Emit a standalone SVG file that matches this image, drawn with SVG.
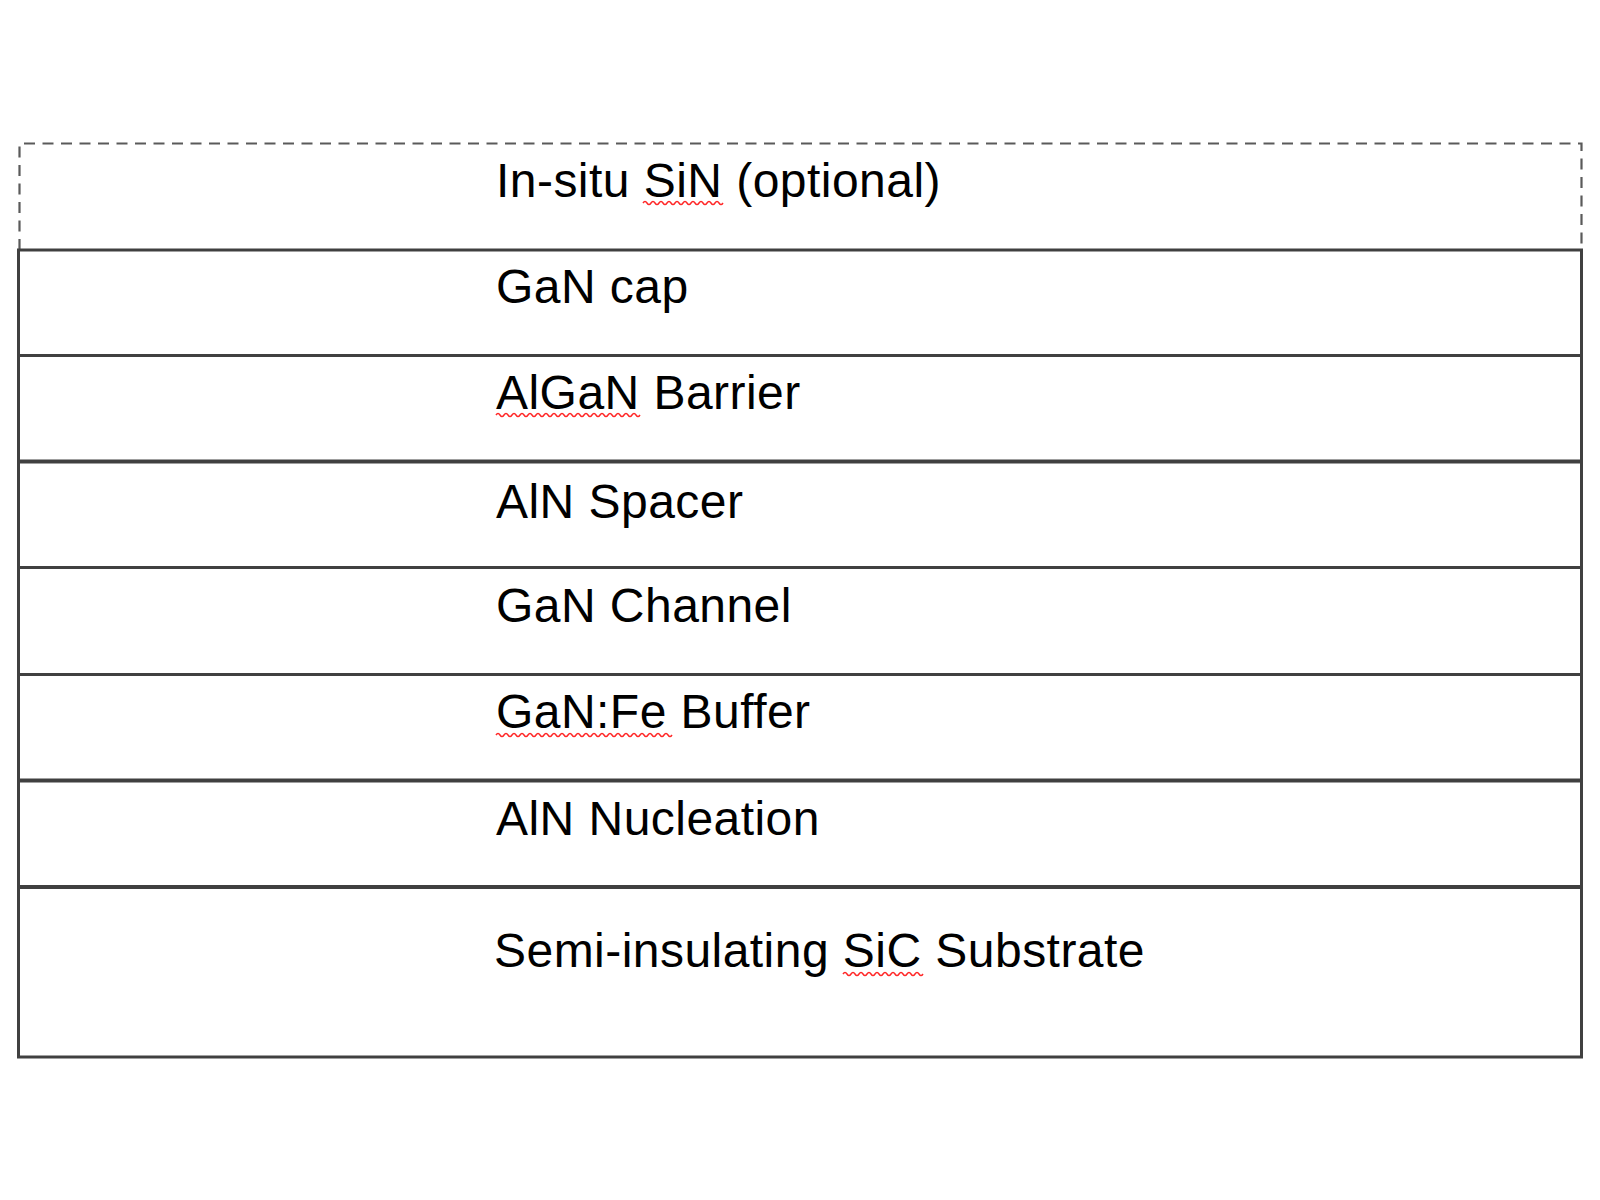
<svg xmlns="http://www.w3.org/2000/svg" width="1600" height="1200" viewBox="0 0 1600 1200">
<style>
.lbl{font-family:"Liberation Sans",Arial,sans-serif;font-size:48px;fill:#000;letter-spacing:0.46px}
.ln{stroke:#404040;stroke-width:3;fill:none}
.thk{stroke-width:4}
.dash{stroke:#5a5a5a;stroke-width:2.2;fill:none;stroke-dasharray:11 7.5}
.sq{stroke:#ff2828;stroke-width:1.5;fill:none}
</style>
<rect width="1600" height="1200" fill="#fff"/>
<g id="insitu-sin">
<path class="dash" d="M19.5,250 V143.5 H1581.5 V250"/>
<text class="lbl" x="496" y="197">In-situ SiN (optional)</text>
<path class="sq" d="M643,203 q2,-3 4,0 t4,0 t4,0 t4,0 t4,0 t4,0 t4,0 t4,0 t4,0 t4,0 t4,0 t4,0 t4,0 t4,0 t4,0 t4,0 t4,0 t4,0 t4,0 t4,0"/>
</g>
<g id="gan-cap">
<text class="lbl" x="496" y="303">GaN cap</text>
</g>
<g id="algan-barrier">
<text class="lbl" x="496" y="409">AlGaN Barrier</text>
<path class="sq" d="M496,415 q2,-3 4,0 t4,0 t4,0 t4,0 t4,0 t4,0 t4,0 t4,0 t4,0 t4,0 t4,0 t4,0 t4,0 t4,0 t4,0 t4,0 t4,0 t4,0 t4,0 t4,0 t4,0 t4,0 t4,0 t4,0 t4,0 t4,0 t4,0 t4,0 t4,0 t4,0 t4,0 t4,0 t4,0 t4,0 t4,0 t4,0"/>
</g>
<g id="aln-spacer">
<text class="lbl" x="496" y="518">AlN Spacer</text>
</g>
<g id="gan-channel">
<text class="lbl" x="496" y="622">GaN Channel</text>
</g>
<g id="ganfe-buffer">
<text class="lbl" x="496" y="728">GaN:Fe Buffer</text>
<path class="sq" d="M496,735 q2,-3 4,0 t4,0 t4,0 t4,0 t4,0 t4,0 t4,0 t4,0 t4,0 t4,0 t4,0 t4,0 t4,0 t4,0 t4,0 t4,0 t4,0 t4,0 t4,0 t4,0 t4,0 t4,0 t4,0 t4,0 t4,0 t4,0 t4,0 t4,0 t4,0 t4,0 t4,0 t4,0 t4,0 t4,0 t4,0 t4,0 t4,0 t4,0 t4,0 t4,0 t4,0 t4,0 t4,0 t4,0"/>
</g>
<g id="aln-nucleation">
<text class="lbl" x="496" y="835">AlN Nucleation</text>
</g>
<g id="sic-substrate">
<text class="lbl" x="494" y="967">Semi-insulating SiC Substrate</text>
<path class="sq" d="M843,974 q2,-3 4,0 t4,0 t4,0 t4,0 t4,0 t4,0 t4,0 t4,0 t4,0 t4,0 t4,0 t4,0 t4,0 t4,0 t4,0 t4,0 t4,0 t4,0 t4,0 t4,0"/>
</g>
<g id="connectors">
<rect class="ln" x="18.5" y="250" width="1563" height="807" stroke-width="2.6"/>
<line class="ln" x1="18" y1="355.5" x2="1582" y2="355.5"/>
<line class="ln thk" x1="18" y1="461.5" x2="1582" y2="461.5"/>
<line class="ln" x1="18" y1="567.5" x2="1582" y2="567.5"/>
<line class="ln" x1="18" y1="674.5" x2="1582" y2="674.5"/>
<line class="ln thk" x1="18" y1="780.5" x2="1582" y2="780.5"/>
<line class="ln thk" x1="18" y1="887" x2="1582" y2="887"/>
</g>
</svg>
